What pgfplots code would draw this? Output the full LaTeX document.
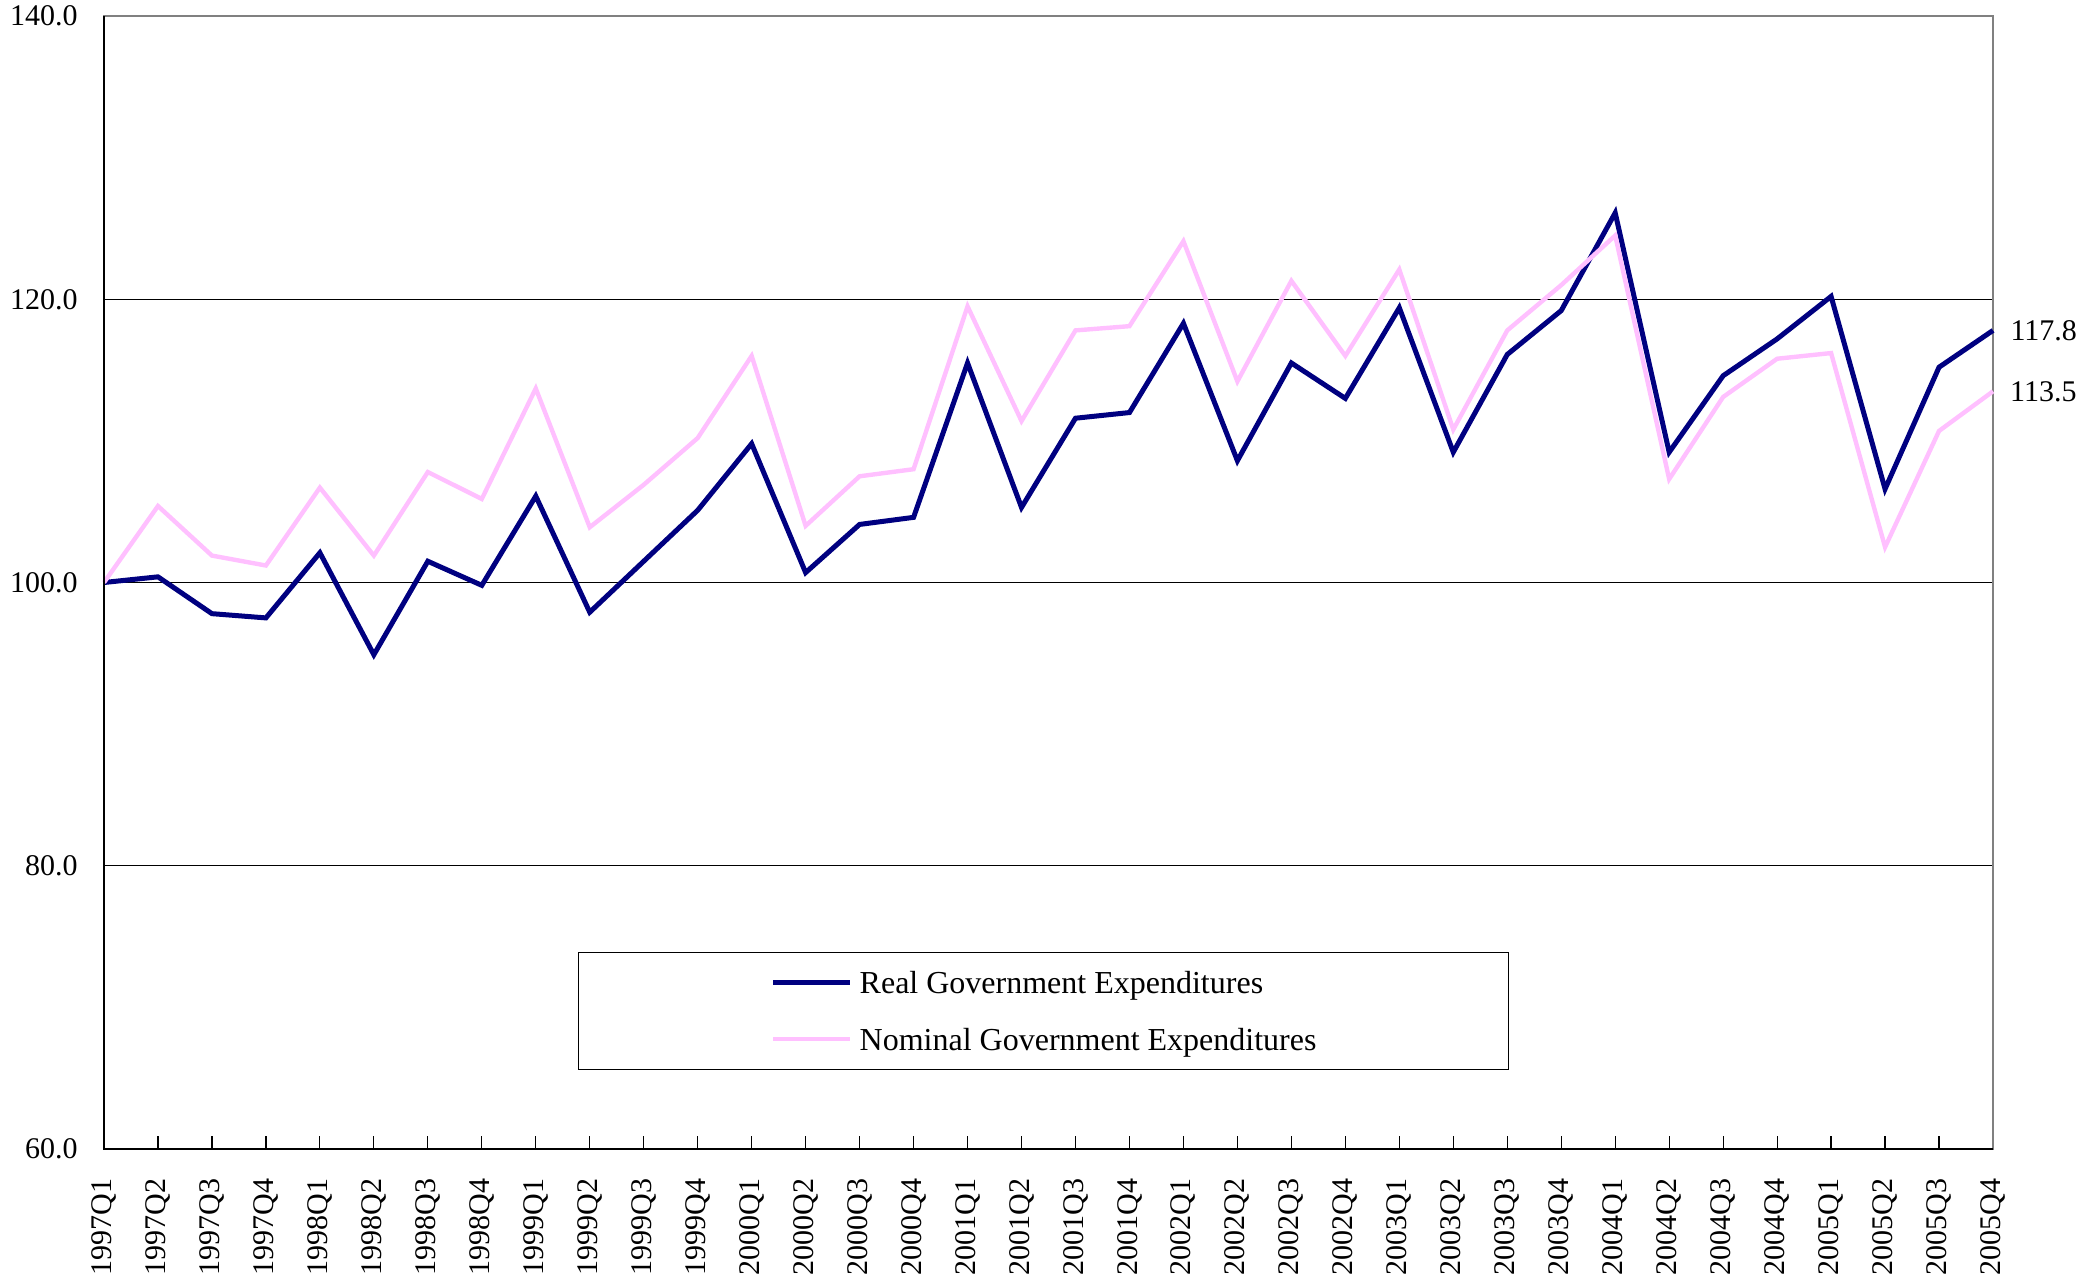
\documentclass[border=0pt]{standalone}
\usepackage{pgfplots}
\usepackage{pgfplotstable}
\usepackage{fontspec}
\setmainfont{Liberation Serif}
\pgfplotsset{compat=1.18}
\definecolor{realc}{RGB}{0,0,128}
\definecolor{nomc}{RGB}{255,192,255}
\pgfplotstableread{
idx label real nominal
0 1997Q1 100.0 100.0
1 1997Q2 100.4 105.4
2 1997Q3 97.8 101.9
3 1997Q4 97.5 101.2
4 1998Q1 102.1 106.7
5 1998Q2 94.9 101.9
6 1998Q3 101.5 107.8
7 1998Q4 99.8 105.9
8 1999Q1 106.1 113.7
9 1999Q2 97.9 103.9
10 1999Q3 101.5 106.9
11 1999Q4 105.1 110.2
12 2000Q1 109.8 116.0
13 2000Q2 100.7 104.0
14 2000Q3 104.1 107.5
15 2000Q4 104.6 108.0
16 2001Q1 115.5 119.5
17 2001Q2 105.3 111.4
18 2001Q3 111.6 117.8
19 2001Q4 112.0 118.1
20 2002Q1 118.3 124.1
21 2002Q2 108.6 114.2
22 2002Q3 115.5 121.3
23 2002Q4 113.0 116.0
24 2003Q1 119.4 122.1
25 2003Q2 109.2 110.8
26 2003Q3 116.1 117.8
27 2003Q4 119.2 121.0
28 2004Q1 126.1 124.5
29 2004Q2 109.2 107.3
30 2004Q3 114.6 113.1
31 2004Q4 117.2 115.8
32 2005Q1 120.2 116.2
33 2005Q2 106.6 102.5
34 2005Q3 115.2 110.7
35 2005Q4 117.8 113.5
}\datatable
\begin{document}
\begin{tikzpicture}[font=\fontsize{15bp}{18bp}\selectfont]
\begin{axis}[
  at={(0,0)}, anchor=south west,
  scale only axis,
  width=944.5bp, height=566.5bp,
  xmin=0, xmax=35, ymin=60, ymax=140,
  xtick={0,...,35},
  xticklabels from table={\datatable}{label},
  ytick={60,80,100,120,140},
  xtick pos=bottom, ytick pos=left,
  /pgf/number format/.cd, fixed, fixed zerofill, precision=1, assume math mode=true,
  /pgfplots/.cd,
  tick align=inside,
  major tick length=6.5bp,
  tick style={black, line width=0.6bp},
  ymajorgrids,
  grid style={black, line width=0.5bp},
  axis line style={draw=gray, line width=1bp},
  xticklabel style={rotate=90, anchor=east, inner sep=0pt, xshift=-14.5bp, font=\fontsize{15bp}{18bp}\selectfont},
  yticklabel style={anchor=east, inner sep=0pt, xshift=-13bp, font=\fontsize{15bp}{18bp}\selectfont},
  clip=false,
  legend cell align=left,
  legend image code/.code={\draw[#1] (0bp,0bp) -- (38.5bp,0bp);},
  legend style={
    at={(0.4974,0.1222)}, anchor=center,
    draw=black, line width=0.5bp,
    inner xsep=96bp, inner ysep=7.75bp,
    row sep=14bp, column sep=3.5bp,
    font=\fontsize{16bp}{19bp}\selectfont,
    nodes={inner sep=0pt, text height=12.75bp, text depth=1.75bp},
  },
]
\addplot[realc, line width=2.5bp, line join=miter] table[x=idx, y=real] {\datatable}
  node[pos=1, anchor=west, xshift=7.5bp, text=black, inner sep=0pt, font=\fontsize{15bp}{18bp}\selectfont] {117.8};
\addlegendentry{Real Government Expenditures}
\addplot[nomc, line width=2.2bp, line join=miter] table[x=idx, y=nominal] {\datatable}
  node[pos=1, anchor=west, xshift=7.5bp, text=black, inner sep=0pt, font=\fontsize{15bp}{18bp}\selectfont] {113.5};
\addlegendentry{Nominal Government Expenditures}
\draw[black, line width=1bp] (rel axis cs:0,1) -- (rel axis cs:0,0) -- (rel axis cs:1,0);
\end{axis}
\pgfresetboundingbox
\path[use as bounding box] (-52bp,-69bp) rectangle (993bp,574.5bp);
\end{tikzpicture}
\end{document}
